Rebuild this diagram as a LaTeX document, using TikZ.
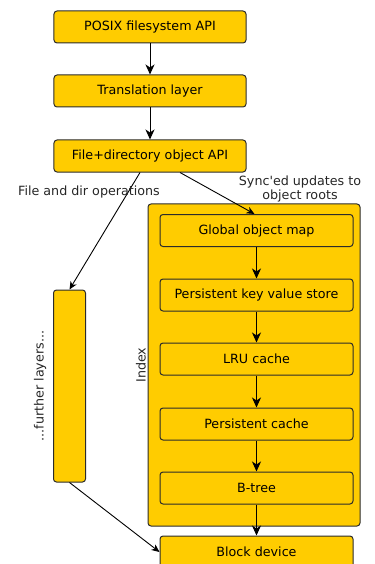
\documentclass[tikz,border=0pt]{standalone}
\usepackage{fontspec}
\setmainfont{DejaVu Sans}
\usepackage{tikz}
\usetikzlibrary{arrows.meta}
\definecolor{fsyellow}{HTML}{FFCC00}
\definecolor{fsedge}{HTML}{2B2B2B}
\tikzset{
  layer/.style={rectangle, draw=fsedge, fill=fsyellow, line width=1bp, rounded corners=3bp,
    minimum width=192bp, minimum height=32bp, inner sep=0pt},
  sublayer/.style={layer, minimum width=193bp},
  flow/.style={-{Stealth[length=10bp,width=9bp,inset=3bp]}, line width=1bp, draw=black},
  sideflow/.style={-{Stealth[length=8bp,width=7bp,inset=2.5bp]}, line width=0.9bp, draw=black},
  note/.style={inner sep=0pt, align=center, text=black!85}
}
\newcommand{\fslayer}[3] {\node at (#1) (#2) [layer] {#3};}
\newcommand{\fssublayer}[3] {\node at (#1) (#2) [sublayer] {#3};}
\newcommand{\fsflow}[2] {\draw [flow] (#1) -- (#2);}
\newcommand{\fssideflow}[2] {\draw [sideflow] (#1) -- (#2);}

\begin{document}
\begin{tikzpicture}[x=1bp, y=-1bp, font=\fontsize{12.7bp}{14.4bp}\selectfont]
\useasboundingbox (0,0) rectangle (374,564);

\fslayer {150,27}{posix}{POSIX filesystem API}
\fslayer {150,91}{trans}{Translation layer}
\fslayer {150,156}{fileapi}{File+directory object API}
\fsflow {posix}{trans}
\fsflow {trans}{fileapi}

\node at (254,365) (index) [layer, minimum width=212bp, minimum height=322bp] {};
\node at (141,365) (indexlabel) [note, rotate=90] {Index};

\fssublayer {256.5,230.5}{gom}{Global object map}
\fssublayer {256.5,295}{kvstore}{Persistent key value store}
\fssublayer {256.5,359}{lru}{LRU cache}
\fssublayer {256.5,424}{pcache}{Persistent cache}
\fssublayer {256.5,488}{btree}{B-tree}
\fssublayer {256.5,552}{block}{Block device}

\fsflow {gom}{kvstore}
\fsflow {kvstore}{lru}
\fsflow {lru}{pcache}
\fsflow {pcache}{btree}
\fsflow {btree}{block}

\node at (69.5,386) (further) [layer, minimum width=32bp, minimum height=192bp] {};
\node at (40,386) (furtherlabel) [note, rotate=90] {...further layers...};

% the two ways out of the object API
\fssideflow {[xshift=-10bp]fileapi.south}{further.north}
\fssideflow {[xshift=30bp]fileapi.south}{[xshift=-2bp]gom.north}
\fssideflow {further.south}{block.west}

\node at (89,192) (dirops) [note] {File and dir operations};
\node at (300,189) (syncs) [note] {Sync\textquotesingle ed updates to\\object roots};

\end{tikzpicture}
\end{document}
